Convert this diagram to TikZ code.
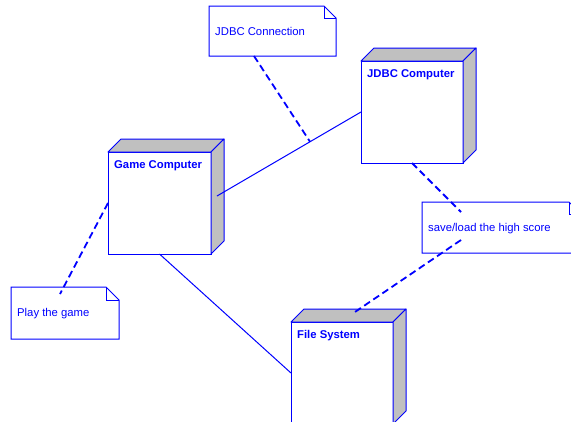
\documentclass[tikz,border=0pt]{standalone}
\usepackage{fontspec}
\setmainfont{Liberation Sans}
\usetikzlibrary{calc}
\definecolor{umlblue}{RGB}{0,0,255}
\definecolor{sidegray}{RGB}{192,192,192}
\tikzset{
  boxface/.style={draw=umlblue, fill=white, line width=1pt, rectangle, inner sep=0pt, outer sep=0pt, anchor=north west},
  depthface/.style={draw=umlblue, fill=sidegray, line width=1pt, line join=round},
  notearea/.style={rectangle, inner sep=0pt, outer sep=0pt, anchor=north west},
  noteline/.style={draw=umlblue, fill=white, line width=1pt},
  nodetitle/.style={anchor=base west, inner sep=0pt, text=umlblue, font=\fontsize{11.3}{13}\selectfont\bfseries},
  notetext/.style={anchor=base west, inner sep=0pt, text=umlblue, font=\fontsize{11.3}{13}\selectfont},
  assoc/.style={draw=umlblue, line width=1pt},
  anchorline/.style={draw=umlblue, line width=1.8pt, dash pattern=on 7pt off 4pt},
}
\newcommand\umlbox[2]{%
  \draw[depthface] (#1.north west) -- ++(13,-13) -- ($(#1.north east)+(13,-13)$) -- (#1.north east) -- cycle;
  \draw[depthface] (#1.north east) -- ++(13,-13) -- ($(#1.south east)+(13,-13)$) -- (#1.south east) -- cycle;
  \node[nodetitle] (#1-t) at ($(#1.north west)+(6,16)$) {#2};
}
\newcommand\umlnote[3]{%
  \path[noteline] (#1.north west) -- ($(#1.north east)+(-#3,0)$) -- ($(#1.north east)+(0,#3)$) -- (#1.south east) -- (#1.south west) -- cycle;
  \draw[umlblue, line width=1pt] ($(#1.north east)+(-#3,0)$) -- ($(#1.north east)+(-#3,#3)$) -- ($(#1.north east)+(0,#3)$);
  \node[notetext] (#1-t) at ($(#1.north west)+(6,29)$) {#2};
}
\begin{document}
\begin{tikzpicture}[x=1pt, y=-1pt]
\useasboundingbox (0,0) rectangle (571,421);
\clip (0,0) rectangle (571,421);

% nodes (front faces)
\node[boxface, minimum width=103pt, minimum height=102pt] (gc) at (108,152) {};
\umlbox{gc}{Game Computer}
\node[boxface, minimum width=102pt, minimum height=102pt] (jc) at (361,61) {};
\umlbox{jc}{JDBC Computer}
\node[boxface, minimum width=102pt, minimum height=102pt] (fs) at (291,322) {};
\umlbox{fs}{File System}

% notes
\node[notearea, minimum width=127pt, minimum height=50pt] (n1) at (209,6) {};
\umlnote{n1}{JDBC Connection}{12}
\node[notearea, minimum width=159pt, minimum height=51pt] (n2) at (422,202) {};
\umlnote{n2}{save/load the high score}{12}
\node[notearea, minimum width=108pt, minimum height=52pt] (n3) at (11,287) {};
\umlnote{n3}{Play the game}{13}

% associations
\coordinate (gcside) at ($(gc.north east)+(6,44)$);
\draw[assoc] (gcside) -- (jc.west);
\coordinate (linkmid) at ($(gcside)!0.646!(jc.west)$);
\draw[assoc] (gc.south) -- (fs.west);

% note anchors
\draw[anchorline] ($(n1.south west)+(45,0)$) -- (linkmid);
\draw[anchorline] (gc.west) -- ($(n3.north west)+(49,7)$);
\draw[anchorline] (jc.south) -- ($(n2.north west)+(39,10)$);
\draw[anchorline] ($(n2.north west)+(39,38)$) -- ($(fs.north west)+(61,-8)$);
\end{tikzpicture}
\end{document}
